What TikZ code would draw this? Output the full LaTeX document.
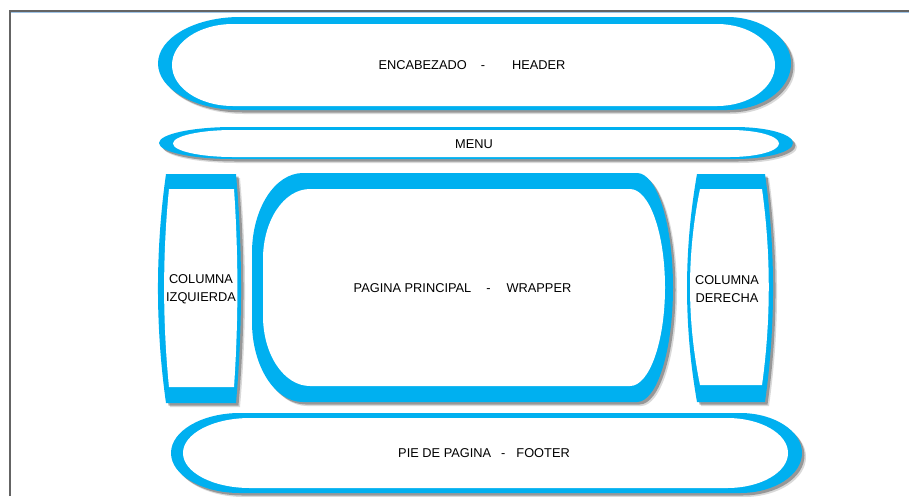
\documentclass[tikz,border=0pt]{standalone}
\usepackage{fontspec}
\setmainfont{Liberation Sans}
\usetikzlibrary{shadows}
\definecolor{cblue}{RGB}{0,176,240}
\definecolor{framegray}{RGB}{100,100,100}
\definecolor{framelight}{RGB}{160,196,230}
\begin{document}
\begin{tikzpicture}[x=1pt,y=-1pt,
  outer/.style={fill=cblue,
    drop shadow={shadow xshift=4pt,shadow yshift=-4pt,fill=black,opacity=0.15},
    drop shadow={shadow xshift=2.5pt,shadow yshift=-2.5pt,fill=black,opacity=0.3}},
  inner/.style={fill=white},
  lbl/.style={font=\fontsize{12.8}{18}\selectfont, inner sep=0pt, text=black},
  frameline/.style={draw=framegray, line width=1.2pt}]
\useasboundingbox (0,0) rectangle (909,496);
\fill[white] (0,0) rectangle (909,496);
% frame
\draw[framelight, line width=0.8pt] (11,12.6) -- (909,12.6);
\draw[frameline] (10,496) -- (10,11) -- (909,11);

% header
\fill[outer] (240,17) -- (727,17) arc[start angle=-90,end angle=90,x radius=64,y radius=46.5]
  -- (240,110) arc[start angle=90,end angle=270,x radius=82,y radius=46.5] -- cycle;
\fill[inner] (233,24) -- (717,24) arc[start angle=-90,end angle=90,x radius=58,y radius=41]
  -- (233,106) arc[start angle=90,end angle=270,x radius=61,y radius=41] -- cycle;

% menu
\fill[outer] (233,127) -- (735,127) arc[start angle=-90,end angle=90,x radius=58,y radius=16]
  -- (233,159) arc[start angle=90,end angle=270,x radius=74,y radius=16] -- cycle;
\fill[inner] (233,130) -- (730,130) arc[start angle=-90,end angle=90,x radius=49,y radius=13.5]
  -- (233,157) arc[start angle=90,end angle=270,x radius=60,y radius=13.5] -- cycle;

% left column
\fill[outer] (166,174) -- (236,174) .. controls (242.7,250) and (242.7,327) .. (236,403)
  -- (166,403) .. controls (155.3,327) and (155.3,250) .. cycle;
\fill[inner] (169,189) -- (234,189) .. controls (238.5,255) and (238.5,321) .. (234,387)
  -- (169,387) .. controls (162.5,321) and (162.5,255) .. cycle;

% main wrapper
\fill[outer] (303,173) -- (637,173) arc[start angle=-90,end angle=90,x radius=36,y radius=114.5]
  -- (303,402) arc[start angle=90,end angle=180,x radius=51,y radius=80]
  -- (252,253) arc[start angle=180,end angle=270,x radius=51,y radius=80] -- cycle;
\fill[inner] (310,189) -- (630,189) arc[start angle=-90,end angle=90,x radius=35,y radius=98.5]
  -- (310,386) arc[start angle=90,end angle=180,x radius=47,y radius=70]
  -- (263,259) arc[start angle=180,end angle=270,x radius=47,y radius=70] -- cycle;

% right column
\fill[outer] (697,174) -- (765,174) .. controls (775.7,250) and (775.7,326) .. (765,402)
  -- (697,402) .. controls (683.7,326) and (683.7,250) .. cycle;
\fill[inner] (700,189) -- (762,189) .. controls (771,254) and (771,320) .. (762,385)
  -- (700,385) .. controls (686.7,320) and (686.7,254) .. cycle;

% footer
\fill[outer] (240,413) -- (740,413) arc[start angle=-90,end angle=90,x radius=62,y radius=40]
  -- (240,493) arc[start angle=90,end angle=270,x radius=69,y radius=40] -- cycle;
\fill[inner] (250,418) -- (727,418) arc[start angle=-90,end angle=90,x radius=61,y radius=35]
  -- (250,488) arc[start angle=90,end angle=270,x radius=67,y radius=35] -- cycle;

% labels
\node[lbl, anchor=base] (hdr) at (472,69) {ENCABEZADO\hspace{14pt}-\hspace{27pt}HEADER};
\node[lbl, anchor=base] (menu) at (474,148.5) {MENU};
\node[lbl, anchor=base] (wrap) at (462.5,292) {PAGINA PRINCIPAL\hspace{15pt}-\hspace{16pt}WRAPPER};
\node[lbl, anchor=base] (foot) at (484,457) {PIE DE PAGINA\hspace{10pt}-\hspace{11pt}FOOTER};
\node[lbl, align=center] (colL) at (201,289) {COLUMNA\\IZQUIERDA};
\node[lbl, align=center] (colR) at (727,289) {COLUMNA\\DERECHA};
\end{tikzpicture}
\end{document}
